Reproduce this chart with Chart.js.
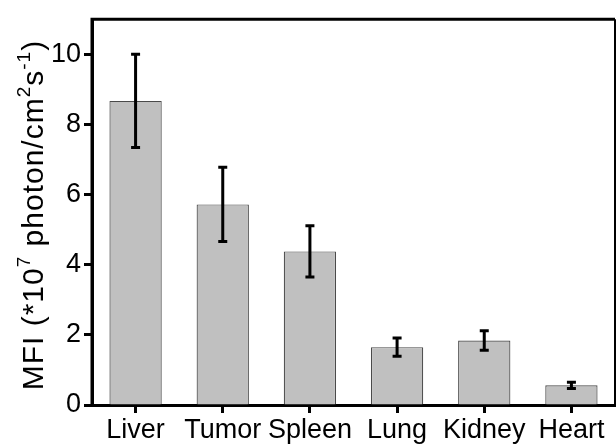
<!DOCTYPE html>
<html>
<head>
<meta charset="utf-8">
<script src="https://cdn.jsdelivr.net/npm/chart.js@4.4.1/dist/chart.umd.min.js"></script>
<style>
  html, body { margin: 0; padding: 0; background: #fff; }
  #wrap { width: 616px; height: 448px; }
</style>
</head>
<body>
<div id="wrap"><canvas id="grafico"></canvas></div>
<script>
// Datos
const organos = ['Liver', 'Tumor', 'Spleen', 'Lung', 'Kidney', 'Heart'];
const mfi = [8.67, 5.72, 4.38, 1.65, 1.84, 0.56];
const mfiError = [1.33, 1.06, 0.73, 0.26, 0.28, 0.09];
const yTicks = [0, 2, 4, 6, 8, 10];

const FUENTE = '"Liberation Sans", Arial, sans-serif';

// Barras de error (media ± desviación)
const barrasError = {
    id: 'barrasError',
    afterDatasetsDraw(chart) {
        const ctx = chart.ctx;
        const x = chart.scales.x;
        const y = chart.scales.y;
        ctx.save();
        ctx.strokeStyle = '#000';
        ctx.lineWidth = 3;
        mfi.forEach((v, i) => {
            const px = x.getPixelForValue(i);
            const top = y.getPixelForValue(v + mfiError[i]);
            const bot = y.getPixelForValue(v - mfiError[i]);
            ctx.beginPath();
            ctx.moveTo(px, top);
            ctx.lineTo(px, bot);
            ctx.moveTo(px - 4.5, top);
            ctx.lineTo(px + 4.5, top);
            ctx.moveTo(px - 4.5, bot);
            ctx.lineTo(px + 4.5, bot);
            ctx.stroke();
        });
        ctx.restore();
    }
};

// Marco completo alrededor del área del gráfico
const marco = {
    id: 'marco',
    afterDraw(chart) {
        const a = chart.chartArea;
        const ctx = chart.ctx;
        ctx.save();
        ctx.strokeStyle = '#000';
        ctx.lineWidth = 3;
        ctx.beginPath();
        ctx.moveTo(a.left, a.bottom);
        ctx.lineTo(a.left, a.top);
        ctx.lineTo(a.right, a.top);
        ctx.stroke();
        ctx.lineWidth = 2;
        ctx.beginPath();
        ctx.moveTo(a.right, a.top);
        ctx.lineTo(a.right, a.bottom);
        ctx.stroke();
        ctx.restore();
    }
};

// Título del eje Y con superíndices
const tituloY = {
    id: 'tituloY',
    afterDraw(chart) {
        const ctx = chart.ctx;
        const a = chart.chartArea;
        const partes = [
            ['MFI (*10', false], ['7', true], [' photon/cm', false],
            ['2', true], ['s', false], ['-1', true], [')', false]
        ];
        const grande = 'normal 30px ' + FUENTE;
        const chica = 'normal 19px ' + FUENTE;
        ctx.save();
        ctx.letterSpacing = '1px';
        let total = 0;
        partes.forEach(p => {
            ctx.font = p[1] ? chica : grande;
            total += ctx.measureText(p[0]).width;
        });
        const cy = (a.top + a.bottom) / 2 + 3;
        ctx.translate(43, cy);
        ctx.rotate(-Math.PI / 2);
        ctx.fillStyle = '#000';
        ctx.textBaseline = 'alphabetic';
        let xx = -total / 2;
        partes.forEach(p => {
            ctx.font = p[1] ? chica : grande;
            ctx.fillText(p[0], xx, p[1] ? -13 : 0);
            xx += ctx.measureText(p[0]).width;
        });
        ctx.restore();
    }
};

const ctx = document.getElementById('grafico');
new Chart(ctx, {
    type: 'bar',
    data: {
        labels: organos,
        datasets: [{
            label: 'MFI',
            data: mfi,
            backgroundColor: '#c0c0c0',
            borderColor: '#4a4a4a',
            borderWidth: 1.2,
            barPercentage: 0.6,
            categoryPercentage: 1.0
        }]
    },
    options: {
        responsive: true,
        maintainAspectRatio: false,
        animation: false,
        devicePixelRatio: 1,
        layout: { padding: { top: 17, right: 1, left: 0, bottom: 0 } },
        plugins: {
            legend: { display: false },
            tooltip: { enabled: false }
        },
        scales: {
            x: {
                offset: true,
                border: { display: true, color: '#000', width: 3 },
                grid: {
                    drawOnChartArea: false,
                    offset: false,
                    tickLength: 8,
                    tickColor: '#000',
                    tickWidth: 3
                },
                ticks: {
                    color: '#000',
                    padding: 1,
                    maxRotation: 0,
                    autoSkip: false,
                    font: { family: FUENTE, size: 27 }
                },
                afterFit(scale) { scale.height = 43; }
            },
            y: {
                min: 0,
                max: 11,
                border: { display: true, color: '#000', width: 3 },
                grid: {
                    drawOnChartArea: false,
                    tickLength: 8,
                    tickWidth: 3,
                    tickColor: (c) => (c.tick && c.tick.value > 10) ? 'rgba(0,0,0,0)' : '#000'
                },
                ticks: {
                    stepSize: 1,
                    color: '#000',
                    padding: 3,
                    font: { family: FUENTE, size: 27 },
                    callback: (v) => yTicks.includes(v) ? String(v) : ''
                },
                afterFit(scale) { scale.width = 92; }
            }
        }
    },
    plugins: [barrasError, marco, tituloY]
});
</script>
</body>
</html>
